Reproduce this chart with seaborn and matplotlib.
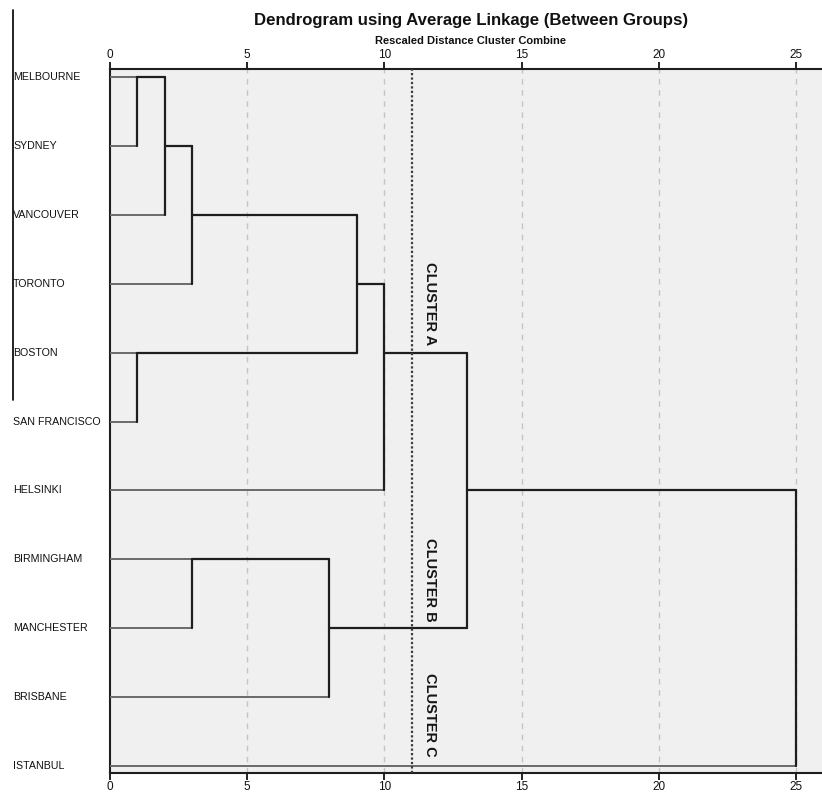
import numpy as np
import pandas as pd
import matplotlib
matplotlib.use("Agg")
import matplotlib.pyplot as plt
import matplotlib.transforms as mtransforms
from matplotlib.lines import Line2D
import seaborn as sns

# ---- data ----
leaves = ["MELBOURNE", "SYDNEY", "VANCOUVER", "TORONTO", "BOSTON",
          "SAN FRANCISCO", "HELSINKI", "BIRMINGHAM", "MANCHESTER",
          "BRISBANE", "ISTANBUL"]
# merges: (cluster a, cluster b, rescaled distance); new clusters numbered 11, 12, ...
merge_a = [0, 11, 12, 4, 13, 15, 7, 17, 16, 19]
merge_b = [1, 2, 3, 5, 14, 6, 8, 9, 18, 10]
merge_h = [1, 2, 3, 1, 9, 10, 3, 8, 13, 25]
xticks = [0, 5, 10, 15, 20, 25]
cut_value = 11
cluster_names = ["CLUSTER A", "CLUSTER B", "CLUSTER C"]
cluster_rows = [3.29, 7.30, 9.26]

title = "Dendrogram using Average Linkage (Between Groups)"
subtitle = "Rescaled Distance Cluster Combine"

# ---- build segments (SPSS-style layout) ----
rows = {i: i for i in range(len(leaves))}
xpos = {i: 0 for i in range(len(leaves))}
segs = []
nid = len(leaves)
for a, b, h in zip(merge_a, merge_b, merge_h):
    for c in (a, b):
        kind = "leaf" if c < len(leaves) else "node"
        segs.append((xpos[c], h, rows[c], rows[c], kind))
    segs.append((h, h, rows[a], rows[b], "node"))
    rows[nid] = (rows[a] + rows[b]) // 2
    xpos[nid] = h
    nid += 1

recs = []
for k, (x0, x1, y0, y1, kind) in enumerate(segs):
    recs.append(dict(seg=k, x=x0, y=y0, kind=kind))
    recs.append(dict(seg=k, x=x1, y=y1, kind=kind))
df = pd.DataFrame(recs)

# ---- figure ----
sns.set_theme(style="white")
plt.rcParams["font.family"] = ["Liberation Sans", "DejaVu Sans"]

W, H = 822, 793
fig = plt.figure(figsize=(W / 100, H / 100), dpi=100)
ax = fig.add_axes([110 / W, 1 - 773 / H, (W - 110) / W, (773 - 69) / H])
ax.set_facecolor("#f0f0f0")

# grid lines
for t in xticks[1:]:
    ax.axvline(t, color="#c4c4c4", lw=1.0, ls=(0, (4, 4)), zorder=1)

sns.lineplot(data=df[df.kind == "leaf"], x="x", y="y", units="seg",
             estimator=None, sort=False, color="#6a6a6a", lw=1.4, ax=ax,
             zorder=3, legend=False)
sns.lineplot(data=df[df.kind == "node"], x="x", y="y", units="seg",
             estimator=None, sort=False, color="#1e1e1e", lw=1.6, ax=ax,
             zorder=4, legend=False)

ax.axvline(cut_value, color="#3a3a3a", lw=1.6, ls=(0, (1, 1)), zorder=5)

for name, r in zip(cluster_names, cluster_rows):
    ax.text(cut_value + 0.66, r, name, rotation=-90, ha="center", va="center",
            fontsize=10.5, fontweight="bold", color="#161616", zorder=6)

ax.set_xlim(0, 25.95)
ax.set_ylim(10.1, -0.116)
ax.set_xticks(xticks)
ax.set_yticks([])
ax.set_xlabel("")
ax.set_ylabel("")
ax.tick_params(axis="x", top=True, labeltop=True, bottom=True, labelbottom=True,
               direction="out", length=5, width=1.3, colors="#111111",
               labelsize=8.5, pad=1)
for s in ("left", "top", "bottom"):
    ax.spines[s].set_visible(True)
    ax.spines[s].set_color("#1e1e1e")
    ax.spines[s].set_linewidth(1.5)
ax.spines["right"].set_visible(False)

# leaf labels
trans = mtransforms.blended_transform_factory(fig.transFigure, ax.transData)
for i, name in enumerate(leaves):
    ax.text(13 / W, i, name, transform=trans, ha="left", va="center",
            fontsize=7.7, color="#111111")

fig.text(471 / W, 1 - 20 / H, title, ha="center", va="center",
         fontsize=12.1, fontweight="bold", color="#111111")
fig.text(470 / W, 1 - 41 / H, subtitle, ha="center", va="center",
         fontsize=8, fontweight="bold", color="#111111")

fig.add_artist(Line2D([12.5 / W, 12.5 / W], [1 - 10 / H, 1 - 400 / H],
                      transform=fig.transFigure, color="#111111", lw=1.3))

fig.savefig("out.png", dpi=100)
